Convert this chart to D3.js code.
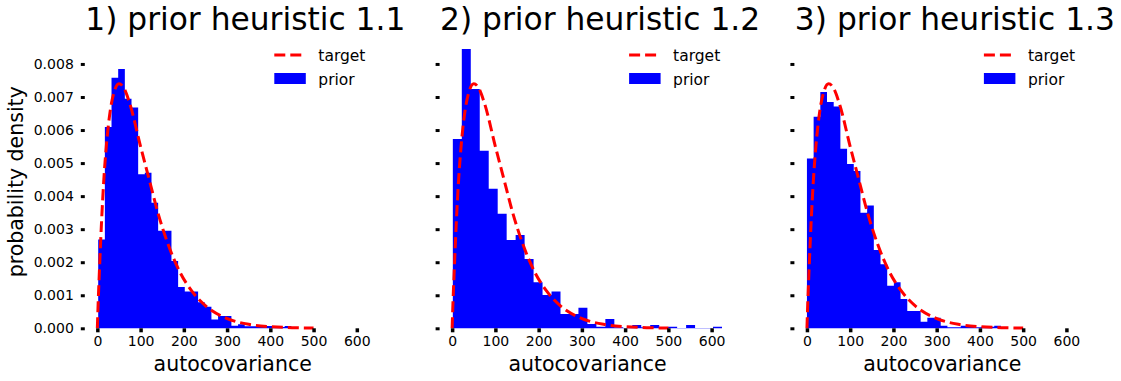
<!DOCTYPE html>
<html>
<head>
<meta charset="utf-8">
<script src="https://cdn.jsdelivr.net/npm/d3@7"></script>
<style>
  body { margin: 0; background: #fff; }
  text { font-family: "DejaVu Sans", sans-serif; fill: #000; }
</style>
</head>
<body>
<svg id="chart" width="1121" height="381"></svg>
<script>
//-------------------------------
// Data

var panelTitles = ['1) prior heuristic 1.1', '2) prior heuristic 1.2', '3) prior heuristic 1.3'];

// histogram bin range (30 bins each) and density per bin
var binRanges = [[2, 464], [1.6, 624], [0, 464]];

var priorDensity1 = [0.00269, 0.00609, 0.00758, 0.00785, 0.00695, 0.00668, 0.00466, 0.00471, 0.00380, 0.00295,
                     0.00295, 0.00204, 0.00125, 0.00111, 0.00111, 0.00079, 0.00065, 0.00027, 0.00037, 0.00037,
                     0.00008, 0.00012, 0.00006, 0.00006, 0.00006, 0.00007, 0.00007, 0.00004, 0.00007, 0.00003];
var priorDensity2 = [0.00573, 0.00845, 0.00724, 0.00537, 0.00422, 0.00347, 0.00267, 0.00282, 0.00210, 0.00139,
                     0.00101, 0.00111, 0.00043, 0.00043, 0.00062, 0.00013, 0.00005, 0.00028, 0.00003, 0.00001,
                     0.00010, 0.00003, 0.00010, 0.00003, 0.00005, 0.00001, 0.00010, 0.00001, 0.00001, 0.00005];
var priorDensity3 = [0.00514, 0.00640, 0.00715, 0.00685, 0.00671, 0.00543, 0.00497, 0.00476, 0.00350, 0.00372,
                     0.00237, 0.00194, 0.00129, 0.00139, 0.00089, 0.00052, 0.00052, 0.00020, 0.00032, 0.00032,
                     0.00008, 0.00003, 0.00003, 0.00008, 0.00005, 0.00003, 0.00005, 0.00005, 0.00008, 0.00003];
var priorDensities = [priorDensity1, priorDensity2, priorDensity3];

// target density curve (same in every panel)
var targetX = [0, 2, 5, 10, 15, 20, 30, 40, 50, 60, 75, 100, 118, 140, 162, 191, 220, 253, 299, 350, 400, 450, 500];
var targetY = [0, 0.0008, 0.0018, 0.0033, 0.0045, 0.0054, 0.0066, 0.0072, 0.0074, 0.0073, 0.0068, 0.0055, 0.0046,
               0.0035, 0.0026, 0.0017, 0.0011, 0.00065, 0.0003, 0.00012, 0.00005, 0.00002, 0.00001];

var xTicks = [0, 100, 200, 300, 400, 500, 600];
var yTicks = [0, 0.001, 0.002, 0.003, 0.004, 0.005, 0.006, 0.007, 0.008];

var legendLabels = ['target', 'prior'];

//-------------------------------
// Layout

var svg = d3.select('#chart');
var plotW = 295.8, plotTop = 35.2, plotBottom = 328.3;
var panelLeft = [84.8, 439.6, 794.4];
var blue = '#0000ff', red = '#ff0000';

var y = d3.scaleLinear().domain([0, 0.00887]).range([plotBottom, plotTop]);

panelTitles.forEach(function(title, i) {
  var left = panelLeft[i];
  var x = d3.scaleLinear().domain([-29, 655]).range([left, left + plotW]);
  var g = svg.append('g');

  // histogram: one stepped area so neighbouring bars have no seams
  var r = binRanges[i];
  var dens = priorDensities[i];
  var step = (r[1] - r[0]) / dens.length;
  var steps = dens.map(function(d, k) { return { x: r[0] + k * step, v: d }; });
  steps.push({ x: r[1], v: dens[dens.length - 1] });
  var area = d3.area()
    .x(function(d) { return x(d.x); })
    .y0(y(0))
    .y1(function(d) { return y(d.v); })
    .curve(d3.curveStepAfter);
  g.append('path')
    .datum(steps)
    .attr('d', area)
    .attr('fill', blue);

  // target curve
  var pts = targetX.map(function(v, k) { return [v, targetY[k]]; });
  var line = d3.line()
    .x(function(d) { return x(d[0]); })
    .y(function(d) { return y(d[1]); })
    .curve(d3.curveMonotoneX);
  g.append('path')
    .datum(pts)
    .attr('d', line)
    .attr('fill', 'none')
    .attr('stroke', red)
    .attr('stroke-width', 3)
    .attr('stroke-dasharray', '11,5');

  // x axis: ticks + labels, no spine
  var xAxis = g.append('g')
    .attr('transform', 'translate(0,' + plotBottom + ')')
    .call(d3.axisBottom(x).tickValues(xTicks).tickSize(4).tickPadding(4).tickFormat(d3.format('d')));
  xAxis.select('.domain').remove();
  xAxis.selectAll('line').attr('stroke', '#000').attr('stroke-width', 3.5);
  xAxis.selectAll('text').style('font-size', '14px');

  // y axis: labels only on the first panel
  var yAxis = g.append('g')
    .attr('transform', 'translate(' + left + ',0)')
    .call(d3.axisLeft(y).tickValues(yTicks).tickSize(4).tickPadding(7)
      .tickFormat(i === 0 ? d3.format('.3f') : function() { return ''; }));
  yAxis.select('.domain').remove();
  yAxis.selectAll('line').attr('stroke', '#000').attr('stroke-width', 3);
  yAxis.selectAll('text').style('font-size', '14px');

  // title
  g.append('text')
    .attr('x', left + 160.5)
    .attr('y', 30)
    .attr('text-anchor', 'middle')
    .style('font-size', '31.3px')
    .text(title);

  // x label
  g.append('text')
    .attr('x', left + plotW / 2)
    .attr('y', 371)
    .attr('text-anchor', 'middle')
    .style('font-size', '20.5px')
    .text('autocovariance');

  // legend
  var lg = g.append('g').attr('transform', 'translate(' + (left + 189.5) + ',0)');
  lg.append('line')
    .attr('x1', 0).attr('x2', 29)
    .attr('y1', 55).attr('y2', 55)
    .attr('stroke', red).attr('stroke-width', 3)
    .attr('stroke-dasharray', '11,5');
  lg.append('rect')
    .attr('x', 0).attr('y', 73)
    .attr('width', 31.5).attr('height', 11)
    .attr('fill', blue);
  lg.selectAll('text.leg')
    .data(legendLabels)
    .enter().append('text')
    .attr('class', 'leg')
    .attr('x', 44)
    .attr('y', function(d, k) { return 60.5 + k * 24; })
    .style('font-size', '15.5px')
    .text(function(d) { return d; });
});

// shared y label
svg.append('text')
  .attr('transform', 'translate(23,' + ((plotTop + plotBottom) / 2) + ') rotate(-90)')
  .attr('text-anchor', 'middle')
  .style('font-size', '20.5px')
  .text('probability density');
</script>
</body>
</html>
